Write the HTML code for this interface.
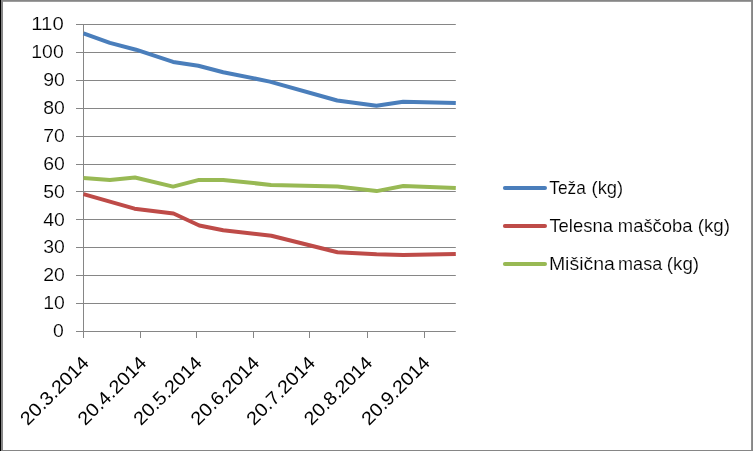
<!DOCTYPE html>
<html><head><meta charset="utf-8"><title>Chart</title>
<style>
html,body{margin:0;padding:0;background:#fff;}
body{width:753px;height:451px;overflow:hidden;}
svg{display:block;will-change:transform;}
text{font-family:"Liberation Sans",sans-serif;fill:#000;stroke:#fff;stroke-width:0.15px;}
</style></head><body>
<svg width="753" height="451" viewBox="0 0 753 451">
<rect x="0" y="0" width="753" height="451" fill="#fff"/>

<rect x="0" y="0" width="753" height="1.8" fill="#868686"/>
<rect x="0" y="450" width="753" height="1" fill="#868686"/>
<rect x="751.1" y="0" width="1.9" height="451" fill="#868686"/>
<rect x="0" y="0" width="3" height="451" fill="#868686"/>
<rect x="0" y="0" width="1" height="451" fill="#000"/>
<line x1="76.00" y1="331.50" x2="455.80" y2="331.50" stroke="#868686" stroke-width="1"/>
<line x1="76.00" y1="303.50" x2="455.80" y2="303.50" stroke="#868686" stroke-width="1"/>
<line x1="76.00" y1="275.50" x2="455.80" y2="275.50" stroke="#868686" stroke-width="1"/>
<line x1="76.00" y1="247.50" x2="455.80" y2="247.50" stroke="#868686" stroke-width="1"/>
<line x1="76.00" y1="219.50" x2="455.80" y2="219.50" stroke="#868686" stroke-width="1"/>
<line x1="76.00" y1="191.50" x2="455.80" y2="191.50" stroke="#868686" stroke-width="1"/>
<line x1="76.00" y1="164.50" x2="455.80" y2="164.50" stroke="#868686" stroke-width="1"/>
<line x1="76.00" y1="136.50" x2="455.80" y2="136.50" stroke="#868686" stroke-width="1"/>
<line x1="76.00" y1="108.50" x2="455.80" y2="108.50" stroke="#868686" stroke-width="1"/>
<line x1="76.00" y1="80.50" x2="455.80" y2="80.50" stroke="#868686" stroke-width="1"/>
<line x1="76.00" y1="52.50" x2="455.80" y2="52.50" stroke="#868686" stroke-width="1"/>
<line x1="76.00" y1="24.50" x2="455.80" y2="24.50" stroke="#868686" stroke-width="1"/>
<line x1="83.5" y1="24.50" x2="83.5" y2="338.00" stroke="#868686" stroke-width="1"/>
<line x1="140.50" y1="331.40" x2="140.50" y2="338.00" stroke="#868686" stroke-width="1"/>
<line x1="196.50" y1="331.40" x2="196.50" y2="338.00" stroke="#868686" stroke-width="1"/>
<line x1="253.50" y1="331.40" x2="253.50" y2="338.00" stroke="#868686" stroke-width="1"/>
<line x1="309.50" y1="331.40" x2="309.50" y2="338.00" stroke="#868686" stroke-width="1"/>
<line x1="367.50" y1="331.40" x2="367.50" y2="338.00" stroke="#868686" stroke-width="1"/>
<line x1="424.50" y1="331.40" x2="424.50" y2="338.00" stroke="#868686" stroke-width="1"/>
<text x="63.70" y="337.00" font-size="18.6" text-anchor="end" textLength="10.8" lengthAdjust="spacingAndGlyphs">0</text>
<text x="64.80" y="309.00" font-size="18.6" text-anchor="end" textLength="21.6" lengthAdjust="spacingAndGlyphs">10</text>
<text x="64.80" y="281.00" font-size="18.6" text-anchor="end" textLength="21.6" lengthAdjust="spacingAndGlyphs">20</text>
<text x="64.80" y="253.00" font-size="18.6" text-anchor="end" textLength="21.6" lengthAdjust="spacingAndGlyphs">30</text>
<text x="64.80" y="225.60" font-size="18.6" text-anchor="end" textLength="21.6" lengthAdjust="spacingAndGlyphs">40</text>
<text x="64.80" y="198.00" font-size="18.6" text-anchor="end" textLength="21.6" lengthAdjust="spacingAndGlyphs">50</text>
<text x="64.80" y="170.00" font-size="18.6" text-anchor="end" textLength="21.6" lengthAdjust="spacingAndGlyphs">60</text>
<text x="64.80" y="142.00" font-size="18.6" text-anchor="end" textLength="21.6" lengthAdjust="spacingAndGlyphs">70</text>
<text x="64.80" y="114.00" font-size="18.6" text-anchor="end" textLength="21.6" lengthAdjust="spacingAndGlyphs">80</text>
<text x="64.80" y="86.00" font-size="18.6" text-anchor="end" textLength="21.6" lengthAdjust="spacingAndGlyphs">90</text>
<text x="63.70" y="58.00" font-size="18.6" text-anchor="end" textLength="32.4" lengthAdjust="spacingAndGlyphs">100</text>
<text x="63.70" y="30.00" font-size="18.6" text-anchor="end" textLength="32.4" lengthAdjust="spacingAndGlyphs">110</text>
<text transform="translate(90.10,363.90) rotate(-45)" x="0" y="0" style="stroke:none" font-size="18.6" text-anchor="end" textLength="88" lengthAdjust="spacingAndGlyphs">20.3.2014</text>
<text transform="translate(147.55,363.90) rotate(-45)" x="0" y="0" style="stroke:none" font-size="18.6" text-anchor="end" textLength="88" lengthAdjust="spacingAndGlyphs">20.4.2014</text>
<text transform="translate(203.15,363.90) rotate(-45)" x="0" y="0" style="stroke:none" font-size="18.6" text-anchor="end" textLength="88" lengthAdjust="spacingAndGlyphs">20.5.2014</text>
<text transform="translate(260.60,363.90) rotate(-45)" x="0" y="0" style="stroke:none" font-size="18.6" text-anchor="end" textLength="88" lengthAdjust="spacingAndGlyphs">20.6.2014</text>
<text transform="translate(316.20,363.90) rotate(-45)" x="0" y="0" style="stroke:none" font-size="18.6" text-anchor="end" textLength="88" lengthAdjust="spacingAndGlyphs">20.7.2014</text>
<text transform="translate(373.65,363.90) rotate(-45)" x="0" y="0" style="stroke:none" font-size="18.6" text-anchor="end" textLength="88" lengthAdjust="spacingAndGlyphs">20.8.2014</text>
<text transform="translate(431.11,363.90) rotate(-45)" x="0" y="0" style="stroke:none" font-size="18.6" text-anchor="end" textLength="88" lengthAdjust="spacingAndGlyphs">20.9.2014</text>
<polyline points="83.5,33.3 109.9,42.9 136,49.7 173.1,61.9 198.3,65.8 223.2,72.2 269.8,81.6 337.2,100.5 376.5,105.8 403.2,101.7 455.8,102.9" fill="none" stroke="#4A7EBB" stroke-width="4" stroke-linejoin="round" stroke-linecap="butt"/>
<polyline points="83.5,194.1 134.5,208.7 173.5,213.5 199.3,225.5 223.2,230.3 271.4,235.7 337.5,252.2 376.6,254.3 403.2,255 455.8,253.9" fill="none" stroke="#BE4B48" stroke-width="4" stroke-linejoin="round" stroke-linecap="butt"/>
<polyline points="83.5,178 109.9,179.9 135,177.5 173.1,186.6 199,179.9 223.2,179.9 271,184.9 337.5,186.6 376.6,191.1 403.3,186 455.8,188.1" fill="none" stroke="#98B954" stroke-width="4" stroke-linejoin="round" stroke-linecap="butt"/>
<line x1="504.9" y1="188.0" x2="545" y2="188.0" stroke="#4A7EBB" stroke-width="4" stroke-linecap="round"/>
<text x="549.3" y="193.70" font-size="17.7" textLength="36.6" lengthAdjust="spacingAndGlyphs">Teža</text>
<text x="591.6" y="193.70" font-size="17.7" textLength="31.6" lengthAdjust="spacingAndGlyphs">(kg)</text>
<line x1="504.9" y1="226.0" x2="545" y2="226.0" stroke="#BE4B48" stroke-width="4" stroke-linecap="round"/>
<text x="549.4" y="231.70" font-size="17.7" textLength="63.5" lengthAdjust="spacingAndGlyphs">Telesna</text>
<text x="617.8" y="231.70" font-size="17.7" textLength="74.8" lengthAdjust="spacingAndGlyphs">maščoba</text>
<text x="697.7" y="231.70" font-size="17.7" textLength="32.3" lengthAdjust="spacingAndGlyphs">(kg)</text>
<line x1="504.9" y1="264.0" x2="545" y2="264.0" stroke="#98B954" stroke-width="4" stroke-linecap="round"/>
<text x="548.9" y="269.70" font-size="17.7" textLength="66.0" lengthAdjust="spacingAndGlyphs">Mišična</text>
<text x="618.1" y="269.70" font-size="17.7" textLength="44.1" lengthAdjust="spacingAndGlyphs">masa</text>
<text x="666.8" y="269.70" font-size="17.7" textLength="32.3" lengthAdjust="spacingAndGlyphs">(kg)</text>
</svg></body></html>
